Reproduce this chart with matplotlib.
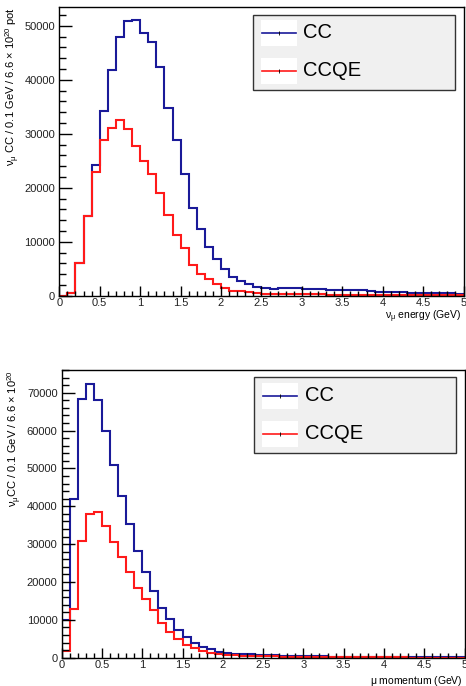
import numpy as np
import matplotlib
matplotlib.use('Agg')
import matplotlib.pyplot as plt
from matplotlib.patches import Rectangle
from matplotlib.ticker import MultipleLocator

plt.rcParams['font.family'] = ['Liberation Sans', 'DejaVu Sans']
plt.rcParams['mathtext.fontset'] = 'custom'
plt.rcParams['mathtext.rm'] = 'Liberation Sans'
plt.rcParams['mathtext.it'] = 'Liberation Sans'

# 0.1 GeV bins from 0 to 5 GeV
bin_edges = np.round(np.arange(0, 5.01, 0.1), 2)

# neutrino energy, events per bin
energy_cc = [0, 450, 6050, 14800, 24200, 34200, 41900, 47900, 50900, 51000,
             48700, 47000, 42300, 34800, 28900, 22600, 16250, 12350, 9080, 6850,
             5000, 3450, 2750, 2200, 1600, 1350, 1300, 1400, 1400, 1350,
             1300, 1250, 1150, 1100, 1050, 1050, 1000, 1000, 800, 750,
             650, 600, 600, 550, 550, 500, 500, 450, 450, 400]
energy_ccqe = [0, 450, 6050, 14800, 23000, 28900, 31000, 32500, 30850, 27800,
               25000, 22500, 19100, 15000, 11200, 8800, 5650, 4020, 3030, 2080,
               1400, 950, 800, 620, 450, 330, 300, 280, 260, 250,
               240, 230, 220, 210, 200, 200, 190, 190, 180, 180,
               170, 170, 160, 160, 150, 150, 150, 140, 140, 130]

# muon momentum, events per bin
momentum_cc = [9950, 41800, 68300, 72200, 68200, 59800, 50800, 42600, 35400, 28100,
               22700, 17700, 13000, 10100, 7300, 5400, 3850, 2700, 2250, 1450,
               1150, 1000, 980, 850, 710, 650, 600, 530, 480, 430,
               400, 360, 340, 300, 280, 260, 240, 220, 200, 190,
               180, 170, 160, 150, 150, 140, 130, 120, 120, 110]
momentum_ccqe = [1800, 12900, 30900, 38000, 38400, 34700, 30600, 26500, 22700, 18500,
                 15500, 12700, 9150, 6850, 5000, 3450, 2500, 1700, 1250, 950,
                 750, 600, 550, 480, 420, 380, 340, 300, 260, 230,
                 200, 180, 160, 150, 130, 120, 110, 100, 90, 80,
                 70, 60, 60, 50, 50, 40, 40, 40, 30, 30]

series_labels = ['CC', 'CCQE']
series_colors = ['#1a1a99', '#ff1a1a']

energy_ylabel = r'$\nu_{\mu}$ CC / 0.1 GeV / 6.6 $\times$ 10$^{20}$ pot'
momentum_ylabel = r'$\nu_{\mu}$CC / 0.1 GeV / 6.6 $\times$ 10$^{20}$'
energy_xlabel = r'$\nu_{\mu}$ energy (GeV)'
momentum_xlabel = r'$\mu$ momentum (GeV)'


def draw_legend(ax):
    # ROOT-style legend box: grey fill, white patch behind each line sample
    x0, x1, y0, y1 = 0.478, 0.979, 0.712, 0.974
    w, h = x1 - x0, y1 - y0
    ax.add_patch(Rectangle((x0, y0), w, h, transform=ax.transAxes,
                           facecolor='#f0f0f0', edgecolor='#333333', lw=1.0, zorder=5))
    for frac, label, color in zip([0.756, 0.253], series_labels, series_colors):
        yc = y0 + frac * h
        ax.add_patch(Rectangle((x0 + 0.04 * w, yc - 0.173 * h), 0.178 * w, 0.346 * h,
                               transform=ax.transAxes, facecolor='white',
                               edgecolor='none', zorder=6))
        ax.plot([x0 + 0.045 * w, x0 + 0.213 * w], [yc, yc], transform=ax.transAxes,
                color=color, lw=1.2, zorder=7)
        ax.plot([x0 + 0.129 * w], [yc], transform=ax.transAxes, marker='|',
                ms=2.5, mew=0.6, color='black', zorder=8)
        ax.text(x0 + 0.25 * w, yc, label, transform=ax.transAxes, fontsize=14.5,
                va='center', ha='left', zorder=7)


def style_axis(ax, ymax, ylabel, xlabel, ylab_x, xlab_y):
    ax.set_xlim(0, 5)
    ax.set_ylim(0, ymax)
    ax.xaxis.set_major_locator(MultipleLocator(0.5))
    ax.xaxis.set_minor_locator(MultipleLocator(0.1))
    ax.yaxis.set_major_locator(MultipleLocator(10000))
    ax.yaxis.set_minor_locator(MultipleLocator(2000))
    ax.xaxis.set_major_formatter(plt.FuncFormatter(lambda v, p: '%g' % v))
    ax.tick_params(axis='both', which='both', direction='in', top=False, right=False,
                   labelsize=8, colors='black', labelcolor='#222222')
    ax.tick_params(axis='y', which='major', length=9, width=1.0, pad=3)
    ax.tick_params(axis='y', which='minor', length=5, width=1.0)
    ax.tick_params(axis='x', which='major', length=7, width=1.0, pad=2)
    ax.tick_params(axis='x', which='minor', length=3.5, width=1.0)
    for s in ax.spines.values():
        s.set_linewidth(1.0)
    ax.set_ylabel(ylabel, fontsize=8, loc='top')
    ax.yaxis.set_label_coords(ylab_x, 1.0)
    ax.set_xlabel(xlabel, fontsize=7.5, loc='right')
    ax.xaxis.set_label_coords(0.995, xlab_y)


fig = plt.figure(figsize=(4.66, 6.86), dpi=100)
ax1 = fig.add_axes([0.1273, 0.5690, 0.8674, 0.4208])
ax2 = fig.add_axes([0.1324, 0.04125, 0.8644, 0.4194])

for ax, cc, ccqe in [(ax1, energy_cc, energy_ccqe), (ax2, momentum_cc, momentum_ccqe)]:
    ax.stairs(cc, bin_edges, color=series_colors[0], lw=1.5, baseline=0)
    ax.stairs(ccqe, bin_edges, color=series_colors[1], lw=1.5, baseline=0)
    draw_legend(ax)

style_axis(ax1, 53500, energy_ylabel, energy_xlabel, -0.093, -0.045)
style_axis(ax2, 76000, momentum_ylabel, momentum_xlabel, -0.094, -0.055)

fig.savefig('out.png', dpi=100)
